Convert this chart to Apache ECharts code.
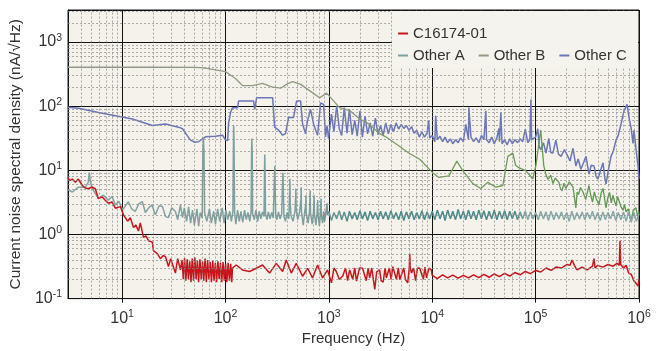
<!DOCTYPE html>
<html>
<head>
<meta charset="utf-8">
<script src="https://cdn.jsdelivr.net/npm/echarts@6/dist/echarts.min.js"></script>
<style>html,body{margin:0;background:#fff}#chart{width:664px;height:351px}</style>
</head>
<body>
<div id="chart"></div>
<script>
'use strict';

// [frequency Hz, nA/sqrt(Hz)]
var c16174 = [
    [3, 7.75], [3.1, 6.9], [3.3, 7.3], [3.53, 6.5], [3.77, 7.3], [4.13, 5.8], [4.4, 5.3], [4.71, 5.16],
    [5.1, 5.5], [5.51, 5.16], [5.89, 3.64], [6.44, 3.85], [6.9, 3.4], [7.36, 3.06], [8.0, 3.2], [8.61, 2.57],
    [9.63, 2.72], [10.3, 2.03], [11.3, 1.61], [12, 1.83], [12.9, 1.28], [13.6, 1.4], [14.4, 1.13], [15, 1.52],
    [16.1, 0.9], [17, 0.95], [18, 0.8], [19.6, 0.76], [20.1, 0.56], [21, 0.6], [22, 0.5], [23.5, 0.42],
    [25, 0.47], [26.3, 0.45], [28.1, 0.315], [29.5, 0.42], [30.7, 0.40], [32.8, 0.25], [34.5, 0.42], [36.7, 0.28],
    [38, 0.40], [39.1, 0.2], [40.2, 0.43], [41.4, 0.19], [42.6, 0.41], [43.8, 0.2], [45.1, 0.38], [46.4, 0.18],
    [47.7, 0.42], [49.1, 0.19], [50.5, 0.44], [52, 0.2], [53.5, 0.39], [55, 0.18], [56.6, 0.41], [58.3, 0.2],
    [60, 0.38], [61.7, 0.19], [63.5, 0.42], [65.3, 0.18], [67.2, 0.4], [69.2, 0.2], [71.2, 0.37], [73.2, 0.18],
    [75.3, 0.39], [77.5, 0.19], [79.8, 0.36], [82.1, 0.18], [84.5, 0.38], [86.9, 0.2], [89.4, 0.36], [92, 0.18],
    [94.7, 0.37], [97.4, 0.19], [100.2, 0.35], [103.1, 0.18], [106.1, 0.36], [109.2, 0.19], [112.4, 0.35], [115, 0.18],
    [117, 0.3], [127, 0.334], [146, 0.28], [171, 0.265], [199, 0.297],
    [228, 0.334], [267, 0.25], [310, 0.354], [357, 0.265], [387, 0.40], [433, 0.25], [484, 0.354], [557, 0.223],
    [623, 0.297], [695, 0.21], [778, 0.334], [869, 0.21], [972, 0.28], [1060, 0.176], [1120, 0.3], [1180, 0.265], [1260, 0.2],
    [1360, 0.223], [1450, 0.3], [1520, 0.19], [1590, 0.28], [1700, 0.2], [1780, 0.3], [1850, 0.187], [1980, 0.3], [2120, 0.297], [2300, 0.19],
    [2400, 0.3], [2480, 0.21], [2600, 0.3], [2780, 0.139], [2900, 0.26], [3100, 0.28], [3200, 0.19], [3350, 0.18], [3500, 0.3], [3600, 0.21], [3850, 0.3],
    [4000, 0.2], [4150, 0.315], [4500, 0.2], [4700, 0.3], [4850, 0.198], [5300, 0.3], [5500, 0.2], [5790, 0.176], [6000, 0.3], [6060, 0.5], [6120, 0.3],
    [6300, 0.25], [6600, 0.3], [6900, 0.19], [7200, 0.3], [7570, 0.297], [8200, 0.2], [8500, 0.31], [8800, 0.21], [9300, 0.3], [9800, 0.28],
    [10000, 0.23], [11200, 0.205], [12600, 0.235], [14100, 0.21], [15800, 0.232], [17800, 0.208], [20000, 0.23], [22400, 0.21],
    [25100, 0.235], [28200, 0.212], [31600, 0.238], [35500, 0.215], [39800, 0.242], [44700, 0.22], [50100, 0.248], [56200, 0.225],
    [63100, 0.255], [70800, 0.235], [79400, 0.265], [89100, 0.245], [100000, 0.275], [112000, 0.26], [126000, 0.3], [141000, 0.275],
    [158000, 0.31], [178000, 0.3], [200000, 0.34], [215000, 0.33], [225000, 0.40], [237000, 0.33], [251000, 0.28], [282000, 0.31],
    [316000, 0.28], [355000, 0.32], [367000, 0.42], [376000, 0.3], [398000, 0.33], [447000, 0.31], [501000, 0.34], [562000, 0.32],
    [613000, 0.354], [645000, 0.33], [655000, 0.80], [665000, 0.34], [690000, 0.36], [708000, 0.3], [750000, 0.33], [794000, 0.25],
    [841000, 0.24], [891000, 0.19], [944000, 0.17], [978000, 0.157], [1000000, 0.2]
];

var otherA = [
    [3, 5.0], [3.3, 4.59], [3.77, 5.46], [4.41, 5.46], [4.7, 6.5], [4.82, 9.2], [4.95, 6.5], [5.16, 5.16],
    [5.89, 3.64], [6.59, 4.09], [7.36, 3.43], [8.0, 3.9], [8.61, 2.88], [9.3, 3.3], [10.1, 2.42], [11.5, 3.24],
    [12.4, 2.5], [13.4, 2.28], [14.5, 3.0], [15.7, 3.24], [16.8, 2.2], [18, 2.57], [19.4, 2.9], [21, 2.03],
    [22.8, 2.8], [24.6, 2.72], [26.3, 1.9], [28.1, 1.83], [30.2, 2.6], [32.8, 2.28], [34.5, 1.7], [36.7, 2.88],
    [38.4, 1.83], [40, 2.6], [42, 1.6], [44, 2.7], [46, 1.5], [48, 2.4], [50, 1.4], [53, 2.5],
    [55, 1.35], [57, 2.2], [59.5, 1.8], [60.5, 20], [61.2, 31.4], [62, 20], [62.8, 2.2], [66, 1.6],
    [70, 2.5], [73, 1.5], [77, 2.3], [80, 1.45], [84, 2.5], [88, 1.6], [93, 2.6], [97, 1.5],
    [101, 2.4], [105, 1.7], [110, 2.3], [114, 1.6], [118, 2.3], [119.5, 30], [120, 50.1], [121, 30],
    [122.5, 2.2], [126, 1.45], [131, 2.4], [136, 1.6], [141, 2.3], [147, 1.55], [153, 2.4], [159, 1.7],
    [165, 2.2], [172, 1.6], [177, 2.3], [179, 20], [180, 31.4], [181.5, 18], [183, 2.1], [190, 1.7],
    [197, 2.4], [205, 1.6], [212, 2.3], [220, 1.75], [228, 2.25], [236, 1.9], [239, 12], [240, 17.7],
    [241.5, 10], [244, 2.1], [252, 1.7], [260, 2.25], [270, 1.75], [280, 2.2], [290, 1.8], [297, 7],
    [300, 11.7], [303, 5], [306, 2.0], [315, 1.7], [325, 2.25], [338, 1.75], [350, 2.1], [356, 6],
    [360, 9.2], [364, 4], [368, 1.9], [380, 1.6], [395, 2.2], [410, 1.75], [418, 5], [420, 7.4],
    [423, 3], [430, 2.0], [450, 1.6], [470, 2.3], [478, 4], [480, 5.2], [483, 2.5], [500, 1.7],
    [520, 2.2], [537, 3.5], [540, 5.46], [543, 2.3], [565, 1.4], [585, 2.3], [598, 3], [600, 4.09],
    [603, 2.2], [630, 1.5], [650, 2.3], [660, 4.87], [664, 2.2], [690, 1.45], [710, 2.2], [720, 4.09],
    [725, 2.1], [750, 1.4], [770, 2.2], [780, 3.43], [786, 2.1], [810, 1.35], [830, 2.2], [840, 3.64],
    [846, 2.0], [870, 1.5], [890, 2.3], [910, 1.6], [935, 2.2], [960, 3.06], [968, 2.0],
    [1000, 2.3], [1060, 1.65], [1120, 2.2], [1190, 1.75], [1260, 2.35], [1330, 1.7], [1410, 2.25], [1500, 1.6],
    [1580, 2.3], [1680, 1.75], [1780, 2.2], [1880, 1.7], [2000, 2.35], [2110, 1.75], [2240, 2.25], [2370, 1.65],
    [2510, 2.3], [2660, 1.75], [2820, 2.2], [2990, 1.7], [3160, 2.3], [3350, 1.75], [3550, 2.25], [3760, 1.7],
    [3980, 2.35], [4220, 1.75], [4470, 2.2], [4730, 1.7], [5010, 2.3], [5310, 1.65], [5620, 2.25], [5960, 1.75],
    [6310, 2.3], [6680, 1.7], [7080, 2.2], [7500, 1.75], [7940, 2.35], [8410, 1.7], [8910, 2.25], [9440, 1.75],
    [10000, 2.3], [10600, 1.7], [11200, 2.4], [11900, 1.75], [12600, 2.3], [13300, 1.65], [14100, 2.4], [15000, 1.75],
    [15800, 2.3], [16800, 1.7], [17800, 2.45], [18800, 1.75], [20000, 2.3], [21100, 1.7], [22400, 2.4], [23700, 1.75],
    [25100, 2.3], [26600, 1.7], [28200, 2.4], [29900, 1.75], [31600, 2.35], [33500, 1.7], [35500, 2.3], [37600, 1.75],
    [39800, 2.4], [42200, 1.7], [44700, 2.3], [47300, 1.75], [50100, 2.35], [53100, 1.7], [56200, 2.3], [59600, 1.75],
    [63100, 2.3], [66800, 1.7], [70800, 2.25], [75000, 1.75], [79400, 2.3], [84100, 1.7], [89100, 2.25], [94400, 1.75],
    [100000, 2.2], [106000, 1.7], [112000, 2.3], [119000, 1.75], [126000, 2.25], [133000, 1.65], [141000, 2.3], [150000, 1.7],
    [158000, 2.2], [168000, 1.75], [178000, 2.25], [188000, 1.7], [200000, 2.2], [211000, 1.6], [224000, 2.3], [237000, 1.7],
    [251000, 2.2], [266000, 1.75], [282000, 2.25], [299000, 1.7], [316000, 2.2], [335000, 1.75], [355000, 2.3], [376000, 1.7],
    [398000, 2.2], [422000, 1.65], [447000, 2.25], [473000, 1.7], [501000, 2.2], [531000, 1.75], [562000, 2.3], [596000, 1.65],
    [631000, 2.2], [668000, 1.7], [708000, 2.25], [750000, 1.6], [794000, 2.3], [841000, 1.55], [891000, 2.2], [944000, 1.6],
    [1000000, 2.1]
];

var otherB = [
    [3, 405], [20, 405], [50, 402], [58, 400], [68.5, 384], [100, 346], [125, 271], [146, 210],
    [183, 210], [228, 227], [280, 200], [341, 191], [400, 225], [446, 241], [533, 219], [650, 175],
    [813, 135], [951, 160], [1110, 121], [1270, 95], [1590, 85.5], [1990, 63], [2430, 53], [3100, 37.3],
    [3550, 33.3], [4850, 23.5], [5920, 18.6], [7570, 14.9], [10100, 9.2], [11600, 7.75], [14500, 8.2], [17300, 13.9],
    [19800, 9.8], [24700, 6.2], [29500, 5.22], [34500, 6.5], [41200, 5.46], [48200, 5.8], [53900, 16.5], [60200, 18.6],
    [64000, 12], [68800, 11.0], [80500, 9.8], [94000, 7.4], [100500, 11.7], [112000, 42.5], [120000, 11.7], [126000, 8.5],
    [132000, 7.2], [140000, 8.4], [147000, 6.2], [155000, 7.6], [168000, 6.5], [174000, 5.2], [180000, 4.8], [188000, 6.3],
    [196000, 5.22], [212000, 6.6], [230000, 5.46], [245000, 2.6], [252000, 4.6], [260000, 4.2], [272000, 5.4], [287000, 4.59],
    [305000, 3.5], [328000, 5.8], [340000, 4.2], [355000, 3.2], [370000, 4.6], [384000, 3.68], [410000, 2.9], [430000, 4.4],
    [449000, 5.22], [465000, 3.6], [480000, 2.6], [500000, 3.8], [520000, 4.5], [540000, 3.1], [560000, 4.09], [580000, 3.3],
    [600000, 2.8], [620000, 3.9], [641000, 3.68], [670000, 2.7], [700000, 2.4], [725000, 2.9], [749000, 2.26], [790000, 2.5],
    [838000, 1.61], [880000, 2.4], [935000, 2.6], [970000, 1.9], [1000000, 2.26]
];

var otherC = [
    [3, 96], [3.8, 93], [5.9, 80], [12.6, 63], [19.6, 50.1], [26.3, 52.9], [30, 50], [36.7, 46],
    [38.4, 44.5], [42, 36], [45.9, 29.6], [50, 27.5], [54.8, 27.9], [60, 31], [64.1, 33.3], [80, 34],
    [93.6, 35.3], [100, 30], [105, 29], [107, 52.9], [112, 80], [117, 94.9], [131, 94.9], [134, 120],
    [187, 120], [192, 89], [200, 135], [286, 135], [299, 47], [326, 42.5], [357, 35.3], [381, 37.3],
    [408, 66.9], [456, 66.9], [487, 120], [533, 120], [557, 52.9], [595, 37.3], [622, 59.6], [665, 89.4],
    [711, 52.9], [778, 35.3], [832, 113], [889, 107], [930, 33.3], [960, 50], [994, 31.4],
    [1000, 31], [1060, 75], [1120, 40], [1190, 101], [1260, 45], [1330, 35], [1410, 95], [1500, 38],
    [1580, 90], [1680, 36], [1780, 60], [1880, 34], [2000, 85], [2110, 33], [2240, 70], [2370, 37],
    [2510, 55], [2660, 34], [2820, 65], [2990, 36], [3160, 50], [3350, 35], [3550, 55], [3760, 37],
    [3980, 52], [4220, 40], [4470, 55], [4730, 44], [5010, 52], [5310, 45], [5620, 50], [5960, 42],
    [6310, 48], [6680, 38], [7080, 42], [7500, 33], [7940, 40], [8410, 33], [8910, 38], [9250, 60],
    [9440, 32], [10000, 35], [10600, 28], [10800, 71], [11200, 30], [11900, 34], [12600, 28], [13300, 33],
    [14100, 27], [15000, 31], [15800, 26], [16800, 30], [17800, 27], [18800, 32], [20000, 28], [21100, 52],
    [22400, 30], [22600, 95], [23700, 33], [25100, 28], [26600, 32], [28200, 27], [29900, 35], [31600, 30],
    [33000, 85], [33500, 30], [35500, 27], [37600, 33], [39800, 26], [42200, 32], [44100, 45], [44700, 28],
    [46100, 80], [47300, 26], [50100, 30], [53100, 25], [56200, 31], [59600, 26], [63100, 30], [66800, 27],
    [70800, 31], [75000, 28], [79400, 44], [84100, 27], [88000, 30], [90000, 127], [91500, 30], [94400, 28],
    [100000, 33], [105000, 44.5], [108000, 24], [112000, 20.9], [119000, 27], [126000, 18.6], [134000, 31.4], [140000, 19],
    [147000, 18.6], [157000, 29.6], [166000, 18], [176000, 16.5], [190000, 21], [205000, 16.5], [215000, 14], [230000, 22.1],
    [245000, 11.7], [258000, 15], [274000, 10.4], [290000, 13], [307000, 16.5], [328000, 8.7], [345000, 12], [367000, 11.7],
    [385000, 8], [401000, 7.3], [425000, 10], [449000, 13.1], [465000, 8], [480000, 6.15], [505000, 10], [536000, 16.5],
    [565000, 20], [599000, 29.6], [630000, 35], [670000, 52.9], [716000, 84.6], [766000, 107], [800000, 66.9], [840000, 45],
    [875000, 26.3], [895000, 42.5], [940000, 20], [978000, 11.7], [1000000, 7.4]
];

// minor grid positions within each decade
var minorSteps = [2, 3, 4, 5, 6, 7, 8, 9];
var xDecades = [1, 10, 100, 1000, 10000, 100000];
var yDecades = [0.1, 1, 10, 100, 1000];

var FONT = "'Liberation Sans', Arial, sans-serif";

function minorLines(decades, lo, hi) {
    var out = [];
    decades.forEach(function (d) {
        minorSteps.forEach(function (m) {
            var v = d * m;
            if (v > lo && v < hi) { out.push(v); }
        });
    });
    return out;
}

function powLabel(v) {
    var e = Math.round(Math.log10(v));
    if (Math.abs(Math.log10(v) - e) > 1e-6) { return ''; }
    return '{b|10}{s|' + e + '}';
}

var labelRich = {
    b: { fontSize: 16, fontFamily: FONT, color: '#333' },
    s: { fontSize: 10.5, fontFamily: FONT, color: '#333', padding: [0, 0, 8, 0] }
};

function lineGradient(stops) {
    return new echarts.graphic.LinearGradient(0, 0, 1, 0, stops.map(function (s) {
        return { offset: s[0], color: s[1] };
    }));
}

var red = '#c8161d', tealA = '#7da1a1', oliveB = '#8f9a80', blueC = '#6b76b9';

var minorX = minorLines(xDecades, 3, 1e6);
var minorY = minorLines(yDecades, 0.1, 3162);

var chart = echarts.init(document.getElementById('chart'));

chart.setOption({
    animation: false,
    backgroundColor: '#fff',
    grid: {
        left: 68, right: 25, top: 10, bottom: 45,
        show: true, backgroundColor: '#f4f2ea', borderColor: '#111', borderWidth: 1
    },
    xAxis: {
        type: 'log', logBase: 10, min: 3, max: 1e6,
        name: 'Frequency (Hz)', nameLocation: 'middle', nameGap: 29,
        nameTextStyle: { fontSize: 15, fontFamily: FONT, color: '#333' },
        axisLine: { show: true, lineStyle: { color: '#111' } },
        axisTick: { show: true, length: 4, lineStyle: { color: '#111' } },
        axisLabel: { formatter: powLabel, rich: labelRich, margin: 10, showMinLabel: false },
        splitLine: { show: true, lineStyle: { color: '#111', width: 1 } }
    },
    yAxis: {
        type: 'log', logBase: 10, min: 0.1, max: 3162,
        name: 'Current noise spectral density (nA/√Hz)', nameLocation: 'middle', nameGap: 35,
        nameTextStyle: { fontSize: 15.5, fontFamily: FONT, color: '#333' },
        axisLine: { show: true, lineStyle: { color: '#111' } },
        axisTick: { show: false },
        axisLabel: { formatter: powLabel, rich: labelRich, margin: 6, showMaxLabel: false },
        splitLine: { show: true, lineStyle: { color: '#111', width: 1 } }
    },
    graphic: [{
        type: 'rect', left: 392, top: 11, z: 10,
        shape: { width: 246, height: 57 },
        style: { fill: '#f5f3ed' }
    }],
    legend: [{
        left: 398, top: 26, padding: 0, z: 20, icon: 'rect', itemWidth: 10, itemHeight: 2,
        textStyle: { fontSize: 15, fontFamily: FONT, color: '#333' },
        data: [{ name: 'C16174-01', itemStyle: { color: red } }]
    }, {
        left: 398, top: 48, padding: 0, z: 20, icon: 'rect', itemWidth: 10, itemHeight: 2, itemGap: 14,
        textStyle: { fontSize: 15, fontFamily: FONT, color: '#333' },
        data: [
            { name: 'Other A', itemStyle: { color: tealA } },
            { name: 'Other B', itemStyle: { color: oliveB } },
            { name: 'Other C', itemStyle: { color: blueC } }
        ]
    }],
    series: [{
        name: 'grid',
        type: 'line',
        data: [],
        silent: true,
        markLine: {
            silent: true, symbol: ['none', 'none'], animation: false,
            label: { show: false },
            lineStyle: { type: [2, 2], color: '#8a8a8a', width: 0.7 },
            data: minorX.map(function (v) { return { xAxis: v }; })
                .concat(minorY.map(function (v) { return { yAxis: v }; }))
        }
    }, {
        name: 'Other C', type: 'line', data: otherC, showSymbol: false,
        lineStyle: { color: blueC, width: 1.5 }, itemStyle: { color: blueC }
    }, {
        name: 'Other B', type: 'line', data: otherB, showSymbol: false,
        lineStyle: {
            width: 1.3,
            color: lineGradient([[0, '#979d8a'], [0.45, '#8f9a80'], [0.62, '#76a05c'], [1, '#5a9650']])
        },
        itemStyle: { color: oliveB }
    }, {
        name: 'Other A', type: 'line', data: otherA, showSymbol: false,
        lineStyle: {
            width: 1.5,
            color: lineGradient([[0, '#86a4a4'], [0.44, '#7c9f9f'], [0.5, '#4a8a8a'], [0.78, '#4a8a8a'], [0.8, '#88a9a9'], [1, '#88a9a9']])
        },
        itemStyle: { color: tealA }
    }, {
        name: 'C16174-01', type: 'line', data: c16174, showSymbol: false,
        lineStyle: { color: red, width: 1.5 }, itemStyle: { color: red }
    }]
});
</script>
</body>
</html>
